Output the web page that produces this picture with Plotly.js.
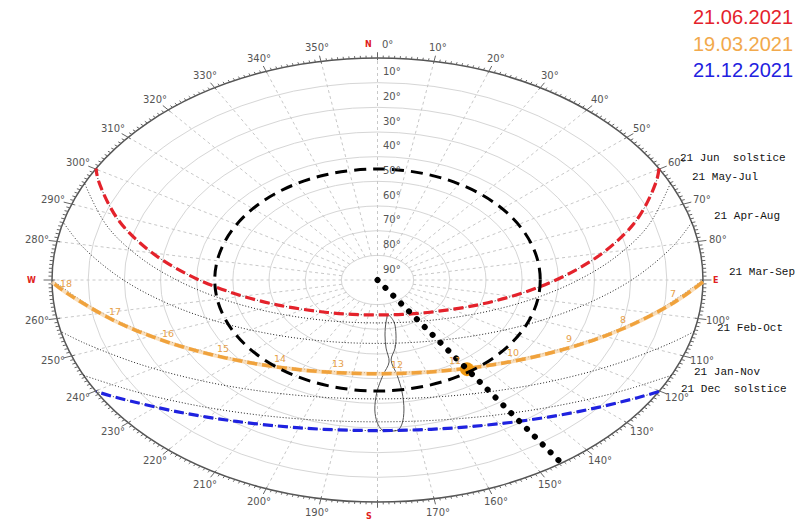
<!DOCTYPE html>
<html><head><meta charset="utf-8">
<script src="https://cdn.plot.ly/plotly-3.0.1.min.js"></script>
<style>body{margin:0;background:#fff}#chart{width:801px;height:526px}</style>
</head><body><div id="chart"></div>
<script>
// ---------- DATA (azimuth ° from north clockwise, altitude °) ----------
const junAz  = [59.86, 62.57, 71.04, 79.13, 87.46, 97.09, 110.30, 133.54, 153.50, 180, 206.50, 226.46, 249.70, 262.91, 272.54, 280.87, 288.96, 297.43, 300.14];
const junAlt = [0, 3.13, 14.05, 25.52, 37.31, 49.17, 60.71, 70.89, 74.43, 75.84, 74.43, 70.89, 60.71, 49.17, 37.31, 25.52, 14.05, 3.13, 0];

const marAz  = [90.5, 96.49, 106.24, 117.48, 131.43, 149.48, 171.97, 196.05, 217.18, 233.71, 246.58, 257.19, 266.66, 269.5];
const marAlt = [0, 7.70, 19.34, 30.37, 40.17, 47.77, 51.72, 50.88, 45.52, 37.03, 26.72, 15.43, 3.68, 0];

const decAz  = [120.14, 123.57, 133.84, 145.78, 159.55, 169.58, 180, 190.42, 200.45, 214.22, 226.16, 236.43, 239.86];
const decAlt = [0, 3.70, 12.98, 20.66, 26.13, 28.24, 28.96, 28.24, 26.13, 20.66, 12.98, 3.70, 0];

const mayJulAz  = [64.16, 73.75, 82.13, 90.90, 101.19, 115.35, 139.02, 180, 220.98, 244.65, 258.81, 269.10, 277.87, 286.25, 295.84];
const mayJulAlt = [0, 12.16, 23.77, 35.62, 47.43, 58.72, 68.27, 72.6, 68.27, 58.72, 47.43, 35.62, 23.77, 12.16, 0];

const aprAugAz  = [74.91, 80.52, 89.46, 99.06, 110.51, 125.86, 148.51, 180, 211.49, 234.14, 249.49, 260.94, 270.54, 279.48, 285.09];
const aprAugAlt = [0, 7.23, 19.05, 30.89, 42.38, 52.86, 61.00, 64.3, 61.00, 52.86, 42.38, 30.89, 19.05, 7.23, 0];

const marSepAz  = [90, 99.28, 109.41, 121.40, 136.57, 156.36, 180, 203.64, 223.43, 238.60, 250.59, 260.72, 270];
const marSepAlt = [0, 11.83, 23.34, 34.07, 43.33, 49.94, 52.4, 49.94, 43.33, 34.07, 23.34, 11.83, 0];

const febOctAz  = [103.42, 107.59, 117.63, 129.35, 143.54, 160.67, 180, 199.33, 216.46, 230.65, 242.37, 252.41, 256.58];
const febOctAlt = [0, 5.12, 16.09, 26.00, 34.21, 39.79, 41.8, 39.79, 34.21, 26.00, 16.09, 5.12, 0];

const janNovAz  = [115.44, 124.35, 135.45, 148.49, 163.55, 180, 196.45, 211.51, 224.55, 235.65, 244.56];
const janNovAlt = [0, 9.49, 18.61, 25.94, 30.79, 32.5, 30.79, 25.94, 18.61, 9.49, 0];

// noon analemma
const anaAz  = [168.4, 165.0, 167.1, 170.0, 173.4, 172.0, 171.5, 172.1, 173.4, 174.7, 176.8, 178.8, 180.1, 180.8, 180.2, 177.7, 174.5, 175.1, 174.7, 172.1, 168.4];
const anaAlt = [75.5, 72.4, 67.1, 62.0, 57.3, 51.1, 44.1, 36.8, 31.2, 28.9, 28.7, 29.2, 32.4, 37.3, 44.6, 51.5, 56.6, 62.3, 67.6, 72.8, 75.5];

// hour labels on the 19.03 path
const marHours   = ['7','8','9','10','11','12','13','14','15','16','17','18'];
const marHourAz  = [96.49, 106.24, 117.48, 131.43, 149.48, 171.97, 196.05, 217.18, 233.71, 246.58, 257.19, 266.66];
const marHourAlt = [7.70, 19.34, 30.37, 40.17, 47.77, 51.72, 50.88, 45.52, 37.03, 26.72, 15.43, 3.68];

// current sun position and its direction line
const sunAz = [145.6], sunAlt = [46.2];
const sunLineAz = [145.6, 145.6], sunLineAlt = [90, 0.4];
const markCircleAlt = 45;

// declination curve labels (placed at their sunrise azimuth)
const declLabels = ['21 Jun  solstice','21 May-Jul','21 Apr-Aug','21 Mar-Sep','21 Feb-Oct','21 Jan-Nov','21 Dec  solstice'];
const declSunriseAz = [59.86, 64.16, 74.91, 90, 103.42, 115.44, 120.14];

const dateLabels = ['21.06.2021','19.03.2021','21.12.2021'];
const ringAlts = [10,20,30,40,50,60,70,80];
const altLabels = ['10°','20°','30°','40°','50°','60°','70°','80°','90°'];
const altLabelVals = [10,20,30,40,50,60,70,80,90];
const azLabelVals = [0,10,20,30,40,50,60,70,80,100,110,120,130,140,150,160,170,190,200,210,220,230,240,250,260,280,290,300,310,320,330,340,350];
const cardinals = ['N','E','S','W'];
const cardinalAz = [0,90,180,270];

// ---------- PROJECTION ----------
const D = Math.PI/180;
const R = alt => (90-alt)/90;
const PX = (az,alt) => R(alt)*Math.sin(az*D);
const PY = (az,alt) => R(alt)*Math.cos(az*D);
const px = (azs,alts) => azs.map((a,i)=>PX(a,alts[i]));
const py = (azs,alts) => azs.map((a,i)=>PY(a,alts[i]));

// ---------- STYLE ----------
const RED='#e4222b', ORANGE='#f0a23c', BLUE='#1f22e0';
const offsets = [[19,11],[20,6],[20,6],[24,8],[21,4],[21,3],[20,2]];

const data = [];
// azimuth ticks on horizon
const tx=[], ty=[];
for (let a=0;a<360;a++){
  const major = a%10===0;
  const r0 = major?0.99:1.0, r1 = major?1.026:1.011;
  tx.push(r0*Math.sin(a*D), r1*Math.sin(a*D), null);
  ty.push(r0*Math.cos(a*D), r1*Math.cos(a*D), null);
}
data.push({x:tx,y:ty,mode:'lines',line:{color:'#666',width:1},hoverinfo:'skip'});

// analemma
data.push({x:px(anaAz,anaAlt),y:py(anaAz,anaAlt),mode:'lines',line:{color:'#555',width:1,shape:'spline'},hoverinfo:'skip'});

// dotted declination curves
[[junAz,junAlt],[mayJulAz,mayJulAlt],[aprAugAz,aprAugAlt],[marSepAz,marSepAlt],[febOctAz,febOctAlt],[janNovAz,janNovAlt],[decAz,decAlt]].forEach(([a,h])=>{
  data.push({x:px(a,h),y:py(a,h),mode:'lines',line:{color:'#222',width:1,dash:'1px,2px',shape:'spline'},hoverinfo:'skip'});
});

// sun paths
data.push({x:px(marAz,marAlt),y:py(marAz,marAlt),mode:'lines',line:{color:'rgba(248,212,165,0.75)',width:4,shape:'spline'},hoverinfo:'skip'});
data.push({x:px(junAz,junAlt),y:py(junAz,junAlt),mode:'lines',line:{color:RED,width:3.2,dash:'10px,5px',shape:'spline'},hoverinfo:'skip'});
data.push({x:px(marAz,marAlt),y:py(marAz,marAlt),mode:'lines',line:{color:ORANGE,width:3.5,dash:'10px,5px',shape:'spline'},hoverinfo:'skip'});
data.push({x:px(decAz,decAlt),y:py(decAz,decAlt),mode:'lines',line:{color:BLUE,width:3.2,dash:'10px,5px',shape:'spline'},hoverinfo:'skip'});

// sun marker
data.push({x:px(sunAz,sunAlt),y:py(sunAz,sunAlt),mode:'markers',marker:{size:14,color:'#f0980f'},hoverinfo:'skip'});
// sun direction dotted line
const dotIdx = data.length;
data.push({x:px(sunLineAz,sunLineAlt),y:py(sunLineAz,sunLineAlt),mode:'lines',line:{color:'#000',width:6,dash:'6px,5px'},hoverinfo:'skip'});

// ---------- SHAPES ----------
const shapes = [];
ringAlts.forEach(a=>{const r=R(a);shapes.push({type:'circle',xref:'x',yref:'y',x0:-r,x1:r,y0:-r,y1:r,line:{color:'#d6d6d6',width:1},layer:'below'});});
for (let a=0;a<360;a+=10){
  const r0 = (a%90===0)?0:R(80);
  shapes.push({type:'line',xref:'x',yref:'y',x0:r0*Math.sin(a*D),y0:r0*Math.cos(a*D),x1:Math.sin(a*D),y1:Math.cos(a*D),line:{color:'#c8c8c8',width:1,dash:'3px,3px'},layer:'below'});
}
shapes.push({type:'circle',xref:'x',yref:'y',x0:-1,x1:1,y0:-1,y1:1,line:{color:'#555',width:1.5},layer:'below'});
const rm = R(markCircleAlt);
shapes.push({type:'circle',xref:'x',yref:'y',x0:-rm,x1:rm,y0:-rm,y1:rm,line:{color:'#000',width:3,dash:'12px,7px'},layer:'above'});

// ---------- ANNOTATIONS ----------
const ann = [];
const labFont = {family:'DejaVu Sans, sans-serif',size:10,color:'#555'};
azLabelVals.forEach(a=>{
  const r=1.062;
  ann.push({x:r*Math.sin(a*D),y:r*Math.cos(a*D),text:a+'°',showarrow:false,font:labFont,xanchor:'center',yanchor:'middle',xshift:a===0?10:0});
});
cardinals.forEach((c,i)=>{
  const a=cardinalAz[i], r=1.062;
  const xs = (c==='N'||c==='S')?-9:(c==='E'?-8:0);
  ann.push({x:r*Math.sin(a*D),y:r*Math.cos(a*D),text:'<b>'+c+'</b>',showarrow:false,font:{family:'DejaVu Sans, sans-serif',size:8,color:'#e02020'},xanchor:'center',yanchor:'middle',xshift:xs,yshift:(c==='S'?-1:0)});
});
altLabelVals.forEach((a,i)=>{
  ann.push({x:0,y:R(a),text:altLabels[i],showarrow:false,font:labFont,xanchor:'left',yanchor:'middle',xshift:3,yshift:11});
});
declLabels.forEach((t,i)=>{
  ann.push({x:PX(declSunriseAz[i],0),y:PY(declSunriseAz[i],0),text:t.replace(/ /g,'&nbsp;'),showarrow:false,font:{family:'Liberation Mono, DejaVu Sans Mono, monospace',size:11,color:'#111'},xanchor:'left',yanchor:'middle',xshift:offsets[i][0],yshift:offsets[i][1]});
});
marHours.forEach((h,i)=>{
  ann.push({x:PX(marHourAz[i],marHourAlt[i]),y:PY(marHourAz[i],marHourAlt[i]),text:h,showarrow:false,font:{family:'DejaVu Sans, sans-serif',size:9.5,color:'#e6a04a'},xanchor:'center',yanchor:'middle',yshift:9});
});
const dateColors=[RED,'#f2a94c',BLUE];
dateLabels.forEach((t,i)=>{
  ann.push({xref:'paper',yref:'paper',x:795/801,y:1-(17+26.5*i)/526,text:t,showarrow:false,font:{family:'Liberation Sans, Arial, sans-serif',size:20,color:dateColors[i]},xanchor:'right',yanchor:'middle'});
});

const layout = {
  width:801,height:526,margin:{l:0,r:0,t:0,b:0},
  paper_bgcolor:'#fff',plot_bgcolor:'#fff',showlegend:false,
  xaxis:{range:[-1.1598,1.3011],visible:false,fixedrange:true},
  yaxis:{range:[-1.1081,1.2613],visible:false,fixedrange:true},
  shapes:shapes,annotations:ann
};
Plotly.newPlot('chart',data,layout,{staticPlot:true,displayModeBar:false}).then(gd=>{
  const tr = gd.querySelectorAll('.scatterlayer .trace');
  const t = tr[dotIdx];
  if (t){ const p=t.querySelector('path.js-line'); if(p){p.style.strokeDasharray='0.1px,11px';p.style.strokeLinecap='round';} }
});
</script></body></html>
